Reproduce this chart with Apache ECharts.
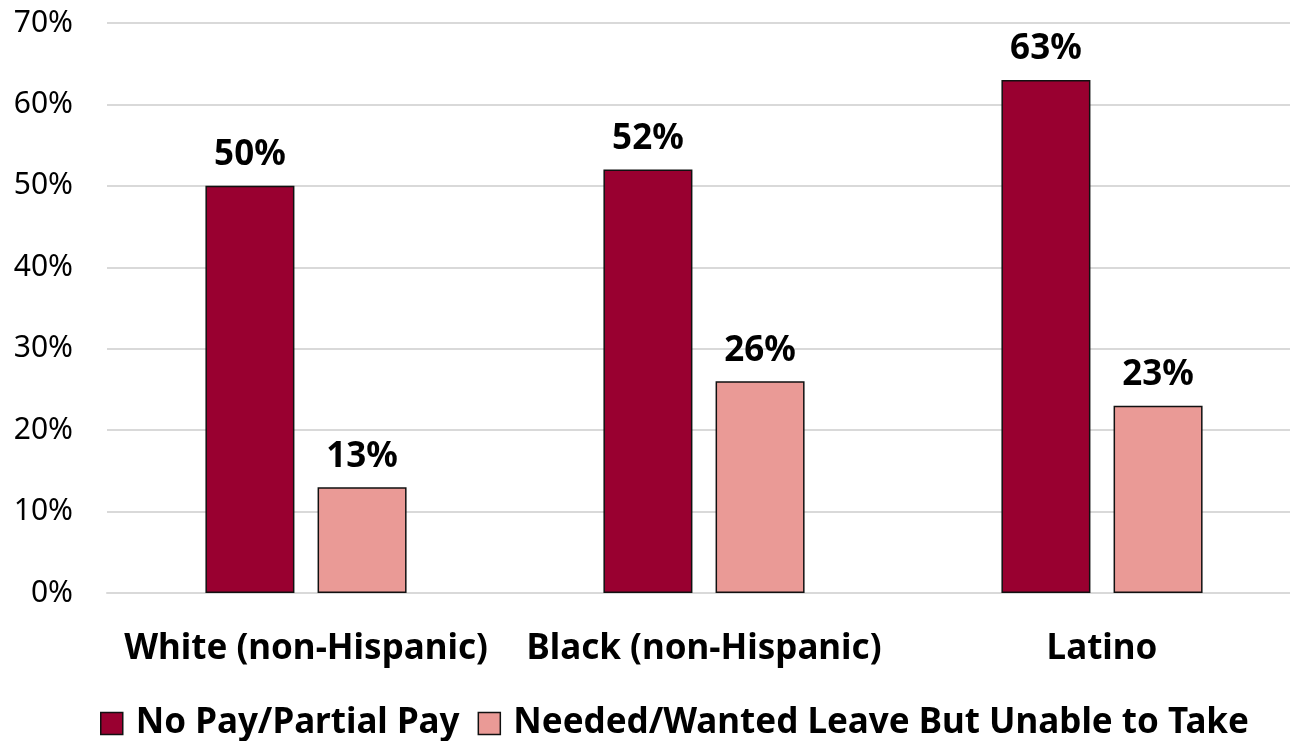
<!DOCTYPE html>
<html><head><meta charset="utf-8">
<script src="https://cdn.jsdelivr.net/npm/echarts@6/dist/echarts.min.js"></script>
<style>html,body{margin:0;padding:0;background:#fff}#c{width:1290px;height:741px}</style>
</head><body><div id="c"></div>
<script>
const categories = ['White (non-Hispanic)', 'Black (non-Hispanic)', 'Latino'];
const seriesNames = ['No Pay/Partial Pay', 'Needed/Wanted Leave But Unable to Take'];
const noPay = [50, 52, 63];
const unable = [13, 26, 23];
const yTicks = [0, 10, 20, 30, 40, 50, 60, 70];

const FONT = '"Noto Sans", "Open Sans", sans-serif';
const chart = echarts.init(document.getElementById('c'));
const labelStyle = {show: true, position: 'top', distance: 13, formatter: p => p.value + '%', fontFamily: FONT, fontWeight: 'bold', fontSize: 35, color: '#000'};
chart.setOption({
  animation: false,
  grid: {left: 107, width: 1194, top: 23, bottom: 148, outerBoundsMode: 'none', containLabel: false},
  legend: {
    bottom: -5, left: 95, itemWidth: 22, itemHeight: 22, itemGap: 18, icon: 'rect',
    itemStyle: {borderColor: '#111', borderWidth: 1.5},
    textStyle: {fontFamily: FONT, fontWeight: 'bold', fontSize: 35, color: '#000', padding: [0, 0, 0, 8]},
    data: seriesNames
  },
  xAxis: {
    type: 'category', data: categories,
    axisLine: {show: true, lineStyle: {color: '#d9d9d9', width: 2}},
    axisTick: {show: false},
    axisLabel: {fontFamily: FONT, fontWeight: 'bold', fontSize: 35, color: '#000', margin: 39, interval: 0}
  },
  yAxis: {
    type: 'value', min: yTicks[0], max: yTicks[yTicks.length - 1], interval: 10,
    axisLine: {show: false}, axisTick: {show: false},
    splitLine: {lineStyle: {color: '#d9d9d9', width: 2}},
    axisLabel: {fontFamily: FONT, fontSize: 30, color: '#000', margin: 34, formatter: v => v + '%'}
  },
  series: [
    {name: seriesNames[0], type: 'bar', data: noPay, barWidth: 89, barGap: '26%',
     itemStyle: {color: '#990030', borderColor: '#111', borderWidth: 1.5}, label: labelStyle},
    {name: seriesNames[1], type: 'bar', data: unable, barWidth: 89,
     itemStyle: {color: '#EA9A96', borderColor: '#111', borderWidth: 1.5}, label: labelStyle}
  ]
});
</script></body></html>
